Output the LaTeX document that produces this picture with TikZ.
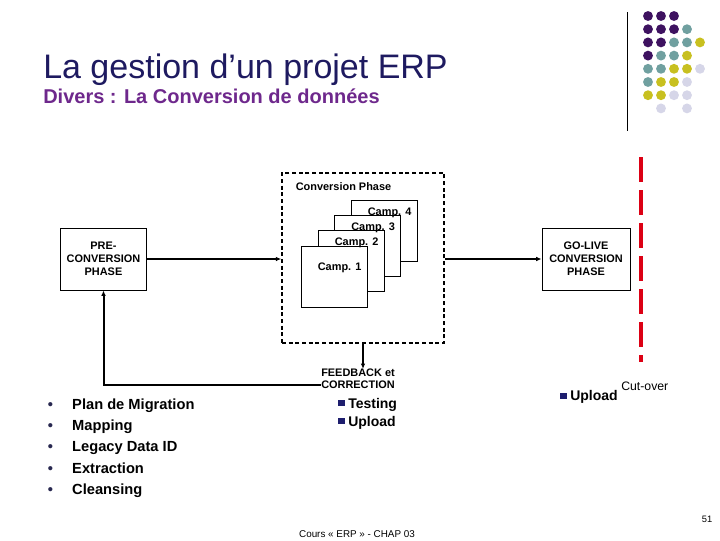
\documentclass[tikz,border=0pt]{standalone}
\usepackage{fontspec}
\setmainfont{Liberation Sans}
\usetikzlibrary{arrows.meta,positioning,calc}
\definecolor{titleblue}{RGB}{30,26,96}
\definecolor{subpurple}{RGB}{110,40,140}
\definecolor{dotp}{RGB}{62,18,96}
\definecolor{dott}{RGB}{112,160,160}
\definecolor{doty}{RGB}{200,192,32}
\definecolor{dotl}{RGB}{214,214,232}
\definecolor{cutred}{RGB}{220,0,20}
\definecolor{bulletnavy}{RGB}{30,30,110}
\definecolor{bulletgrey}{RGB}{40,40,80}
\newcommand{\sqbul}{\textcolor{bulletnavy}{\rule[1.5pt]{5pt}{4.5pt}}\hspace{2.5pt}}

\begin{document}
\begin{tikzpicture}[x=0.75pt,y=-0.75pt,
  phase/.style={draw, line width=0.75pt, minimum width=64pt, minimum height=46.5pt, align=center, inner sep=0pt, font=\fontsize{8.2}{9.75}\selectfont\bfseries},
  camp/.style={draw, fill=white, line width=0.6pt, minimum width=49.5pt, minimum height=45.75pt},
  lbl/.style={inner sep=0pt, align=center, font=\fontsize{8.2}{9}\selectfont\bfseries},
  item/.style={anchor=base west, inner sep=0pt, font=\fontsize{10.5}{12}\selectfont\bfseries},
  arr/.style={line width=1.5pt, -{Latex[length=4pt,width=3.5pt]}}
]
\useasboundingbox (0,0) rectangle (720,540);

% title
\node[anchor=base west, inner sep=0pt, text=titleblue, font=\fontsize{25.5}{30}\selectfont] (title) at (43,78) {La gestion d’un projet ERP};
\node[anchor=base west, inner sep=0pt, text=subpurple, font=\fontsize{15}{18}\selectfont\bfseries] (subtitle) at (43,103) {Divers : La Conversion de données};

% decoration top right
\coordinate (bartop) at (627,12);
\coordinate (barbot) at (627,131);
\draw[line width=0.75pt] (bartop) -- (barbot);
\foreach \c/\r/\col in {1/1/dotp,2/1/dotp,3/1/dotp,
  1/2/dotp,2/2/dotp,3/2/dotp,4/2/dott,
  1/3/dotp,2/3/dotp,3/3/dott,4/3/dott,5/3/doty,
  1/4/dotp,2/4/dott,3/4/dott,4/4/doty,
  1/5/dott,2/5/dott,3/5/doty,4/5/doty,5/5/dotl,
  1/6/dott,2/6/doty,3/6/doty,4/6/dotl,
  1/7/doty,2/7/doty,3/7/dotl,4/7/dotl,
  2/8/dotl,4/8/dotl}
  \fill[\col] ({648+13*(\c-1)},{16+13.2*(\r-1)}) circle[radius=3.7pt];

% phases
\node[phase] (pre) at (103.5,259) {PRE-\\CONVERSION\\PHASE};
\node[draw, line width=1.2pt, dash pattern=on 3pt off 2pt, minimum width=121.5pt, minimum height=127.5pt] (conv) at (363,258) {};
\node[lbl] (convlbl) at (343.5,187) {Conversion Phase};
\node[phase, minimum width=66pt] (golive) at (586,259) {GO-LIVE\\CONVERSION\\PHASE};

% campaigns
\node[camp] (camp4) at (384,231) {};
\node[camp] (camp3) at (367.5,246) {};
\node[camp] (camp2) at (351,261) {};
\node[camp] (camp1) at (334,276.5) {};
\node[lbl] (c4lbl) at ($(camp4.north west)+(39,13)$) {Camp. 4};
\node[lbl] (c3lbl) at ($(camp3.north west)+(39,13)$) {Camp. 3};
\node[lbl] (c2lbl) at ($(camp2.north west)+(39,13)$) {Camp. 2};
\node[lbl] (c1lbl) at ($(camp1.north west)+(39,22)$) {Camp. 1};

% feedback
\node[lbl] (feedback) at (358,379) {FEEDBACK et\\CORRECTION};
\node[item] (testing) at (338,408) {\sqbul Testing};
\node[item] (upload) at (338,426) {\sqbul Upload};

% cut-over
\coordinate (cuttop) at (641,157);
\coordinate (cutbot) at (641,362);
\draw[cutred, line width=3pt, dash pattern=on 18.75pt off 6pt] (cuttop) -- (cutbot);
\node[item] (golup) at (560,400.5) {\sqbul Upload};
\node[anchor=base west, inner sep=0pt, font=\fontsize{9.2}{11}\selectfont] (cutover) at (621,390) {Cut-over};

% pre-conversion tasks
\node[anchor=base west, inner sep=0pt, font=\fontsize{11}{16.1}\selectfont\bfseries] (tasks) at (47.5,409) {%
  \begin{tabular}[t]{@{}l@{\hspace{14.5pt}}l@{}}
  \textcolor{bulletgrey}{•} & Plan de Migration\\
  \textcolor{bulletgrey}{•} & Mapping\\
  \textcolor{bulletgrey}{•} & Legacy Data ID\\
  \textcolor{bulletgrey}{•} & Extraction\\
  \textcolor{bulletgrey}{•} & Cleansing
  \end{tabular}};

% connectors
\draw[arr] (pre.east) -- (pre.east -| conv.west);
\draw[arr] (golive.west -| conv.east) -- (golive.west);
\draw[arr] (conv.south) -- (conv.south |- feedback.north);
\draw[arr] ([yshift=-4.5pt]feedback.west) -| (pre.south);

% footer
\node[inner sep=0pt, font=\fontsize{7}{8}\selectfont] (pagenum) at (707,519) {51};
\node[inner sep=0pt, font=\fontsize{7.4}{9}\selectfont] (course) at (357,534) {Cours « ERP » - CHAP 03};
\end{tikzpicture}
\end{document}
